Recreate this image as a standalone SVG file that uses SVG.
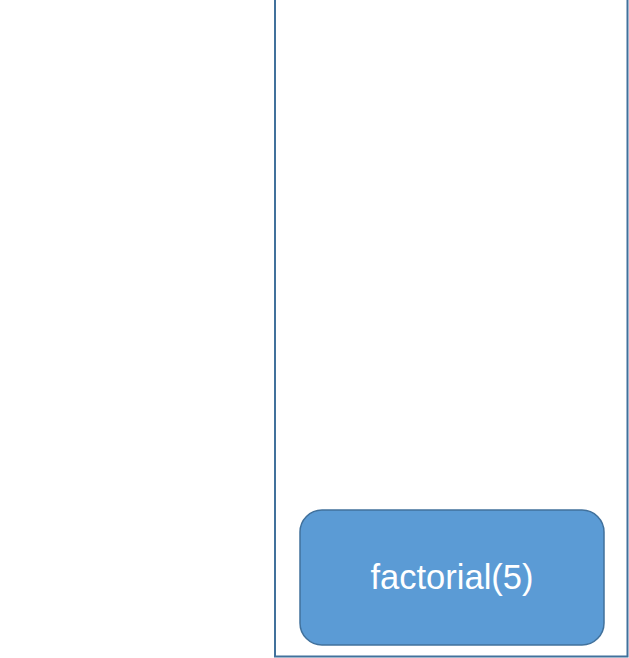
<svg xmlns="http://www.w3.org/2000/svg" width="629" height="658" viewBox="0 0 629 658">
<style>
.frame{fill:none;stroke:#41719C;stroke-width:2}
.node{fill:#5B9BD5;stroke:#41719C;stroke-width:1.5}
.label{font-family:"Liberation Sans",Arial,sans-serif;font-size:34.5px;fill:#FFFFFF;text-anchor:middle}
</style>
<rect width="629" height="658" fill="#FFFFFF"/>
<g id="stack-frame">
<path class="frame" d="M275,-5 V656.5 H627.5 V-5"/>
</g>
<g id="connectors"></g>
<g id="node-factorial5">
<rect class="node" x="300" y="510" width="304" height="135" rx="22" ry="22"/>
<text class="label" x="452" y="589">factorial(5)</text>
</g>
</svg>
